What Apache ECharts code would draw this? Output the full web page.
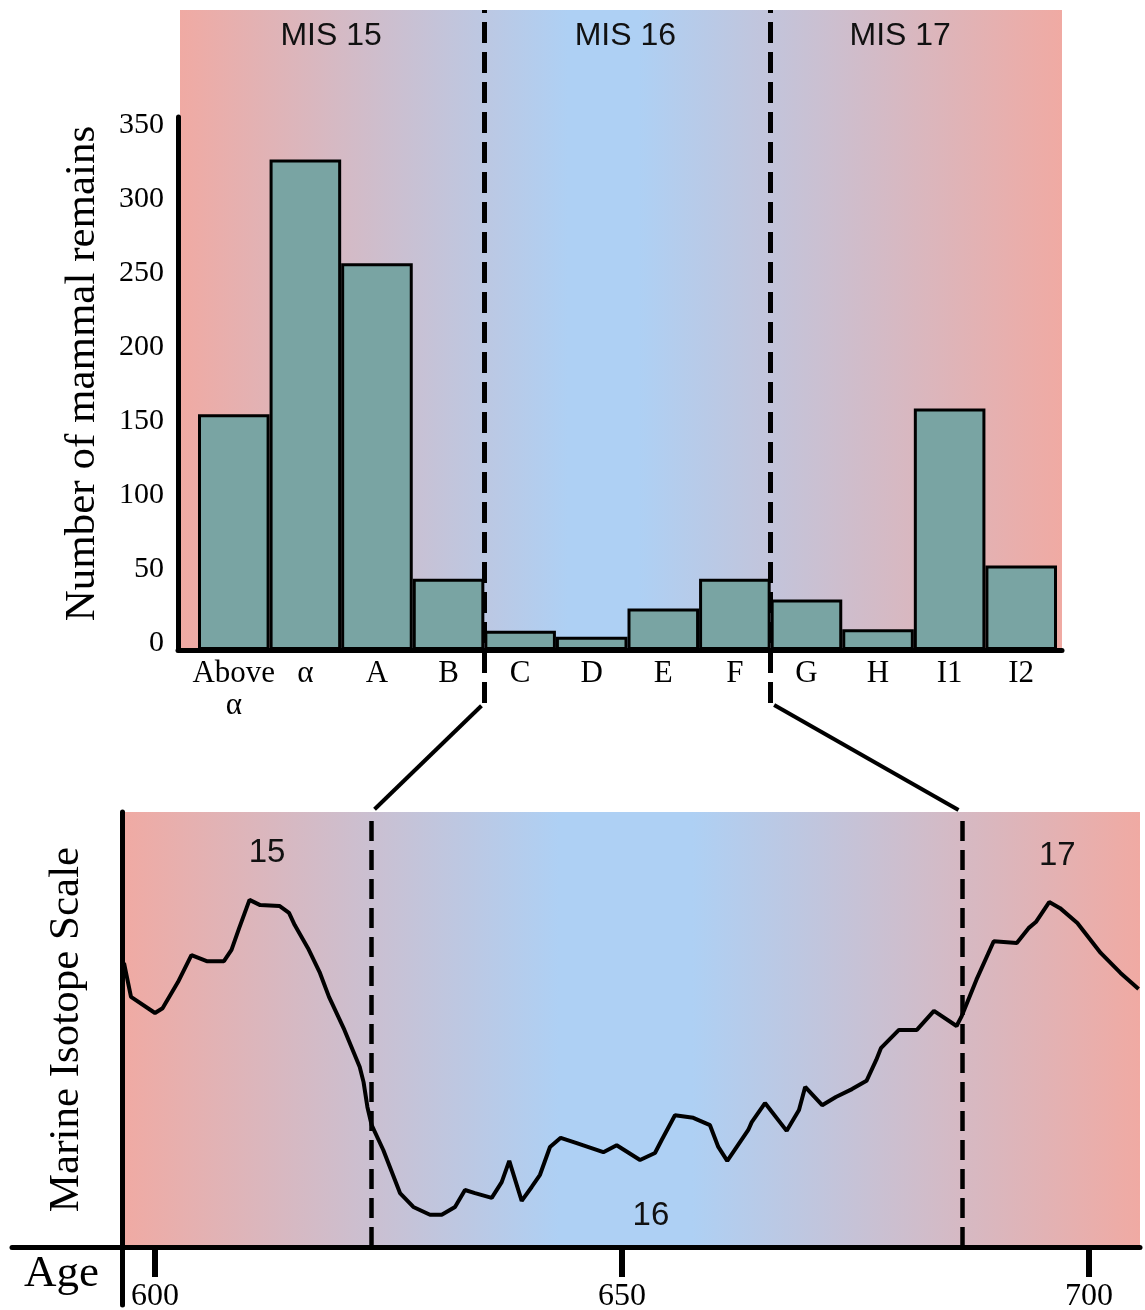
<!DOCTYPE html>
<html><head><meta charset="utf-8">
<script src="https://cdn.jsdelivr.net/npm/echarts@6/dist/echarts.min.js"></script>
<style>html,body{margin:0;padding:0;background:#fff}#c{width:1145px;height:1310px}</style>
</head><body><div id="c"></div>
<script>
// ---------- data ----------
const layers = ['Above\nα','α','A','B','C','D','E','F','G','H','I1','I2'];
const remains = [159, 331, 261, 48, 13, 9, 28, 48, 34, 14, 163, 57];
const misNames = ['MIS 15', 'MIS 16', 'MIS 17'];
const misLabelX = [1.36, 5.47, 9.31];          // in layer-band units
const misBounds = [3.5, 7.5];                   // B|C and F|G boundaries (band units)

const ages = [596.68, 597.43, 600.0, 600.81, 602.46, 603.9, 605.54, 607.38, 608.19, 609.01,
  610.12, 611.26, 613.32, 614.35, 614.96, 616.38, 617.62, 618.63, 620.28, 621.92,
  622.33, 622.74, 623.2, 624.44, 626.23, 627.66, 629.44, 630.7, 632.12, 633.19,
  634.26, 636.05, 637.12, 637.93, 639.26, 640.33, 641.22, 642.29, 643.44, 645.15,
  648.0, 649.43, 651.93, 653.53, 654.25, 655.67, 657.63, 659.42, 660.31, 661.27,
  663.52, 663.89, 665.31, 667.63, 668.95, 669.61, 671.43, 672.9, 674.63, 676.18,
  677.22, 677.72, 679.65, 681.57, 683.4, 685.82, 686.33, 687.94, 689.8, 692.27,
  693.53, 694.31, 695.74, 696.9, 698.75, 701.25, 703.37, 705.31];
const isotope = [65.3, 57.5, 53.8, 54.9, 60.9, 67.1, 65.7, 65.7, 68.3, 73.3,
  79.8, 78.6, 78.4, 76.8, 74.0, 68.7, 63.2, 57.5, 49.9, 41.4,
  37.9, 32.2, 28.0, 22.3, 12.4, 9.2, 7.4, 7.4, 9.2, 13.1,
  12.4, 11.3, 14.9, 19.8, 10.6, 13.8, 16.6, 23.0, 25.1, 23.9,
  21.8, 23.4, 20.0, 21.6, 24.6, 30.3, 29.7, 28.0, 23.0, 19.8,
  26.9, 28.7, 33.1, 26.7, 31.5, 36.8, 32.6, 34.5, 36.3, 38.2,
  43.0, 45.7, 49.9, 49.9, 54.3, 50.8, 52.9, 61.4, 70.3, 69.9,
  73.3, 74.7, 79.3, 77.9, 74.5, 67.6, 63.0, 59.3];
const stageBounds = [623.2, 686.4];
const stageLabels = ['15', '16', '17'];
const stageLabelAge = [612.0, 653.1, 696.6];
const stageLabelVal = [90.6, 7.1, 89.9];
const ageTicks = [600, 650, 700];

// ---------- style ----------
const PINK = '#F0AAA3', BLUE = '#AED0F4';
const SERIF = '"Liberation Serif", "DejaVu Serif", serif';
const SANS = '"Liberation Sans", Arial, sans-serif';
function grad(stops) {
  return { type: 'linear', x: 0, y: 0, x2: 1, y2: 0,
    colorStops: stops.map(s => ({ offset: s[0], color: s[1] })) };
}
const hiddenAxis = (gi, extra) => Object.assign({ gridIndex: gi, type: 'value', show: false, min: 0, max: 1 }, extra || {});
const lineOnly = { show: true, lineStyle: { color: '#000', width: 5 } };
const G = (o) => Object.assign({ outerBoundsMode: 'none', containLabel: false }, o);

const chart = echarts.init(document.getElementById('c'), null, { renderer: 'canvas' });

const option = {
  animation: false,
  backgroundColor: '#fff',
  grid: [
    G({ left: 180, right: 83, top: 10, height: 640, show: true, borderWidth: 0,
      backgroundColor: grad([[0, PINK], [0.44, BLUE], [0.52, BLUE], [1, PINK]]) }),      // 0 top bg
    G({ left: 178, right: 83, top: 117, bottom: 660 }),                                   // 1 top axes
    G({ left: 198, right: 88, top: 117, bottom: 660 }),                                   // 2 bars
    G({ left: 198, right: 88, top: 10, bottom: 607 }),                                    // 3 top dashed
    G({ left: 122, right: 5, top: 812, bottom: 63, show: true, borderWidth: 0,
      backgroundColor: grad([[0, PINK], [0.43, BLUE], [0.56, BLUE], [1, PINK]]) }),      // 4 bottom
    G({ left: 12, right: 5, top: 812, bottom: 63 }),                                      // 5 bottom x line
    G({ left: 122, right: 5, top: 812, bottom: 5 })                                       // 6 bottom y line
  ],
  xAxis: [
    hiddenAxis(0),
    { gridIndex: 1, type: 'value', min: 0, max: 1, z: 3, axisLine: lineOnly,
      axisTick: { show: false }, axisLabel: { show: false }, splitLine: { show: false } },
    { gridIndex: 2, type: 'category', data: layers, axisLine: { show: false }, axisTick: { show: false },
      axisLabel: { fontFamily: SERIF, fontSize: 31, color: '#000', margin: 8, lineHeight: 32, interval: 0 } },
    hiddenAxis(3, { min: -0.5, max: 11.5 }),
    { gridIndex: 4, type: 'value', min: 596.467, max: 705.46,
      axisLine: { show: false }, splitLine: { show: false },
      axisTick: { show: true, customValues: ageTicks, length: 30, lineStyle: { color: '#000', width: 6 } },
      axisLabel: { customValues: ageTicks, fontFamily: SERIF, fontSize: 32, color: '#000', margin: 34 } },
    { gridIndex: 5, type: 'value', min: 0, max: 1, z: 3, axisLine: lineOnly,
      axisTick: { show: false }, axisLabel: { show: false }, splitLine: { show: false } },
    hiddenAxis(6)
  ],
  yAxis: [
    hiddenAxis(0),
    { gridIndex: 1, type: 'value', min: 0, max: 359.65, interval: 50, z: 3,
      axisLine: lineOnly, axisTick: { show: false }, splitLine: { show: false },
      axisLabel: { fontFamily: SERIF, fontSize: 30, color: '#000', margin: 14, showMaxLabel: false,
        verticalAlign: 'bottom', lineHeight: 13 },
      name: 'Number of mammal remains', nameLocation: 'middle', nameGap: 74,
      nameTextStyle: { fontFamily: SERIF, fontSize: 43, color: '#000', padding: [0, 0, 0, 20] } },
    hiddenAxis(2, { min: 0, max: 359.65 }),
    hiddenAxis(3),
    { gridIndex: 4, type: 'value', min: 0, max: 100,
      axisLine: { show: false }, axisTick: { show: false }, axisLabel: { show: false }, splitLine: { show: false },
      name: 'Marine Isotope Scale', nameLocation: 'middle', nameGap: 34,
      nameTextStyle: { fontFamily: SERIF, fontSize: 43, color: '#000' } },
    hiddenAxis(5),
    { gridIndex: 6, type: 'value', min: 0, max: 1, z: 3, axisLine: lineOnly,
      axisTick: { show: false }, axisLabel: { show: false }, splitLine: { show: false } }
  ],
  series: [
    { type: 'bar', xAxisIndex: 2, yAxisIndex: 2, data: remains, barCategoryGap: '0%', z: 2,
      itemStyle: { color: '#79A4A3', borderColor: '#000', borderWidth: 3 } },
    { type: 'scatter', xAxisIndex: 3, yAxisIndex: 3, z: 6, symbolSize: 1, silent: true,
      itemStyle: { color: 'transparent', opacity: 1 },
      data: misNames.map((n, i) => ({ name: n, value: [misLabelX[i], 0.962] })),
      label: { show: true, position: 'inside', formatter: '{b}', fontFamily: SANS, fontSize: 32, color: '#111', opacity: 1 },
      markLine: { silent: true, symbol: 'none', label: { show: false },
        lineStyle: { color: '#000', width: 5, type: [21, 9] },
        data: misBounds.map(b => ({ xAxis: b })) } },
    { type: 'line', xAxisIndex: 4, yAxisIndex: 4, z: 4, symbol: 'none', silent: true,
      data: ages.map((a, i) => [a, isotope[i]]),
      lineStyle: { color: '#000', width: 4 },
      markLine: { silent: true, symbol: 'none', label: { show: false },
        lineStyle: { color: '#000', width: 4.5, type: [20, 9] },
        data: stageBounds.map(b => ({ xAxis: b })) } },
    { type: 'scatter', xAxisIndex: 4, yAxisIndex: 4, z: 6, symbolSize: 1, silent: true,
      itemStyle: { color: 'transparent', opacity: 1 },
      data: stageLabels.map((n, i) => ({ name: n, value: [stageLabelAge[i], stageLabelVal[i]] })),
      label: { show: true, position: 'inside', formatter: '{b}', fontFamily: SANS, fontSize: 33, color: '#111', opacity: 1 } }
  ]
};
chart.setOption(option);

// connectors between the two panels, positioned from the axes
function shorten(a, b, d) {
  const dx = b[0] - a[0], dy = b[1] - a[1], L = Math.hypot(dx, dy);
  const ux = dx / L, uy = dy / L;
  return [[a[0] + ux * d, a[1] + uy * d], [b[0] - ux * d, b[1] - uy * d]];
}
const yTopEnd = chart.convertToPixel({ yAxisIndex: 3 }, 0);
const yBotStart = chart.convertToPixel({ yAxisIndex: 4 }, 100);
const graphics = misBounds.map((b, i) => {
  const a = [chart.convertToPixel({ xAxisIndex: 3 }, b), yTopEnd];
  const c = [chart.convertToPixel({ xAxisIndex: 4 }, stageBounds[i]), yBotStart];
  const s = shorten(a, c, 4);
  return { type: 'line', silent: true, shape: { x1: s[0][0], y1: s[0][1], x2: s[1][0], y2: s[1][1] },
    style: { stroke: '#000', lineWidth: 4 } };
});
graphics.push({ type: 'text', left: 24, top: 1252, silent: true,
  style: { text: 'Age', font: '45px ' + SERIF, fill: '#000' } });
chart.setOption({ graphic: graphics });
</script>
</body></html>
